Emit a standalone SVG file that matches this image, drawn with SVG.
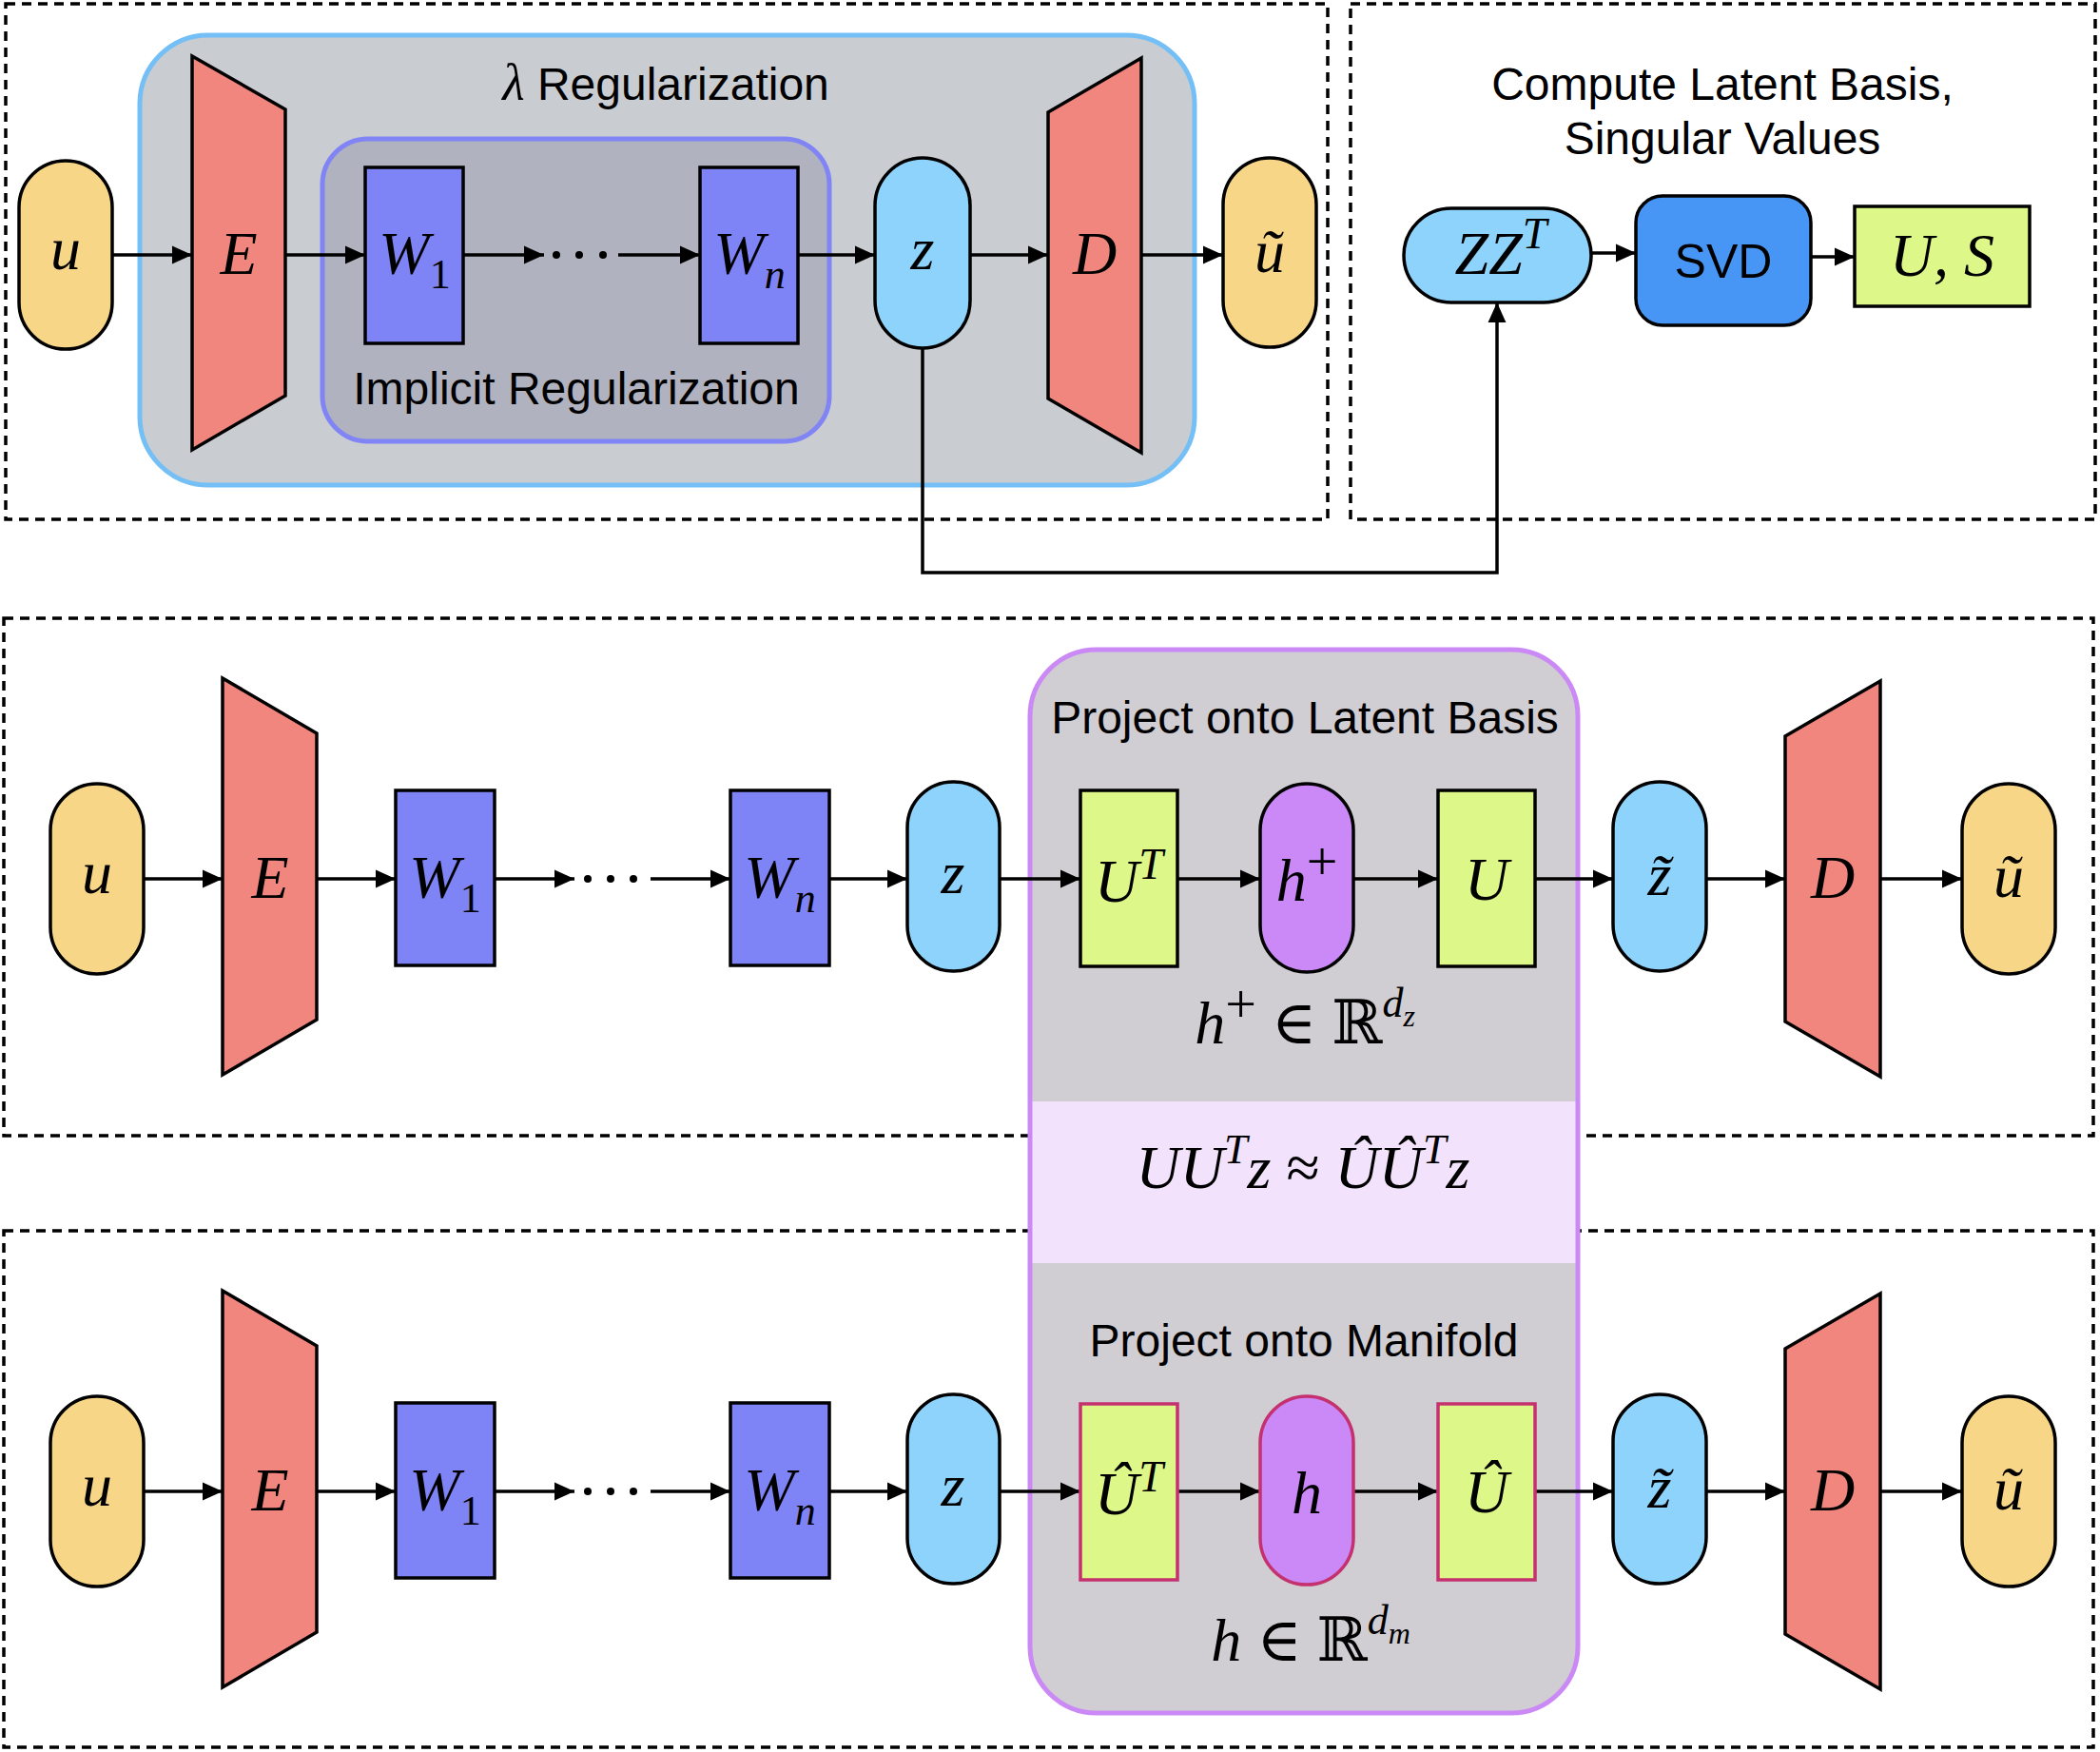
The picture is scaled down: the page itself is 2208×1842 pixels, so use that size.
<svg xmlns="http://www.w3.org/2000/svg" width="2208" height="1842" viewBox="0 0 2208 1842">
<defs>
<style>
.panel{fill:none;stroke:#000;stroke-width:3.5;stroke-dasharray:10 7}
.nd{stroke:#000;stroke-width:3.5}
.cr{stroke:#C4316E;stroke-width:3.5}
.yel{fill:#F8D688}
.sal{fill:#F0867E}
.wb{fill:#7E83F6}
.zb{fill:#8DD3FB}
.lime{fill:#DDF889}
.hp{fill:#CB88F7}
.svd{fill:#4796F6}
.conn{fill:none;stroke:#000;stroke-width:3.5;marker-end:url(#ah)}
.m{font-family:"Liberation Serif","DejaVu Serif",serif;font-style:italic;font-size:64px;text-anchor:middle;fill:#000}
.up{font-style:normal}
.plus{font-style:normal;font-size:58px}
.s{font-family:"Liberation Sans",Arial,sans-serif;font-size:48px;text-anchor:middle;fill:#000}
</style>
<marker id="ah" viewBox="0 0 20 20" refX="20" refY="10" markerWidth="21" markerHeight="21" markerUnits="userSpaceOnUse" orient="auto">
<path d="M0,1 L20,10 L0,19 z" fill="#000"/>
</marker>
<clipPath id="pc"><rect x="1083" y="683" width="576" height="1118" rx="70"/></clipPath>
</defs>
<rect width="2208" height="1842" fill="#fff"/>

<g id="panels">
<rect class="panel" x="6" y="4" width="1390" height="542"/>
<rect class="panel" x="1420" y="4" width="783" height="542"/>
<rect class="panel" x="4" y="650" width="2197" height="544"/>
<rect class="panel" x="4" y="1294" width="2197" height="543"/>
</g>

<g id="containers">
<g id="lambda-reg">
<rect x="147" y="37" width="1109" height="473" rx="72" fill="#C9CDD1" stroke="#74BFF6" stroke-width="5"/>
<text class="s" x="700" y="105"><tspan style="font-family:'Liberation Serif','DejaVu Serif',serif;font-style:italic;font-size:54px">λ</tspan> Regularization</text>
</g>
<g id="implicit-reg">
<rect x="339" y="146" width="533" height="318" rx="48" fill="#B0B2BF" stroke="#8084F5" stroke-width="5"/>
<text class="s" x="606" y="425">Implicit Regularization</text>
</g>
<g id="projection-box">
<g clip-path="url(#pc)">
<rect x="1083" y="683" width="576" height="1118" fill="#D0CED3"/>
<rect x="1083" y="1158" width="576" height="170" fill="#F2E2FC"/>
</g>
<rect x="1083" y="683" width="576" height="1118" rx="70" fill="none" stroke="#CB89F5" stroke-width="5"/>
<text class="s" x="1372" y="771">Project onto Latent Basis</text>
<text class="m" x="1372" y="1097">h<tspan class="plus" dy="-22">+</tspan><tspan class="up" dy="22"> ∈ ℝ</tspan><tspan font-size="44" dy="-28">d</tspan><tspan font-size="32" dy="10">z</tspan></text>
<text class="m" x="1370" y="1249">UU<tspan font-size="44" dy="-26">T</tspan><tspan dy="26">z </tspan><tspan class="up">≈</tspan> ÛÛ<tspan font-size="44" dy="-26">T</tspan><tspan dy="26">z</tspan></text>
<text class="s" x="1371" y="1426">Project onto Manifold</text>
<text class="m" x="1378" y="1746">h<tspan class="up"> ∈ ℝ</tspan><tspan font-size="44" dy="-28">d</tspan><tspan font-size="32" dy="10">m</tspan></text>
</g>
</g>

<g id="connectors">
<path class="conn" d="M118,268 H202"/>
<path class="conn" d="M300,268 H384"/>
<path class="conn" d="M487,268 H572"/>
<path class="conn" d="M650,268 H736"/>
<path class="conn" d="M839,268 H920"/>
<path class="conn" d="M1020,268 H1102"/>
<path class="conn" d="M1200,268 H1286"/>
<path class="conn" d="M970,366 V602 H1574 V318"/>
<path class="conn" d="M1673,266 H1720"/>
<path class="conn" d="M1904,270 H1950"/>
<path class="conn" d="M151,924 H234"/>
<path class="conn" d="M333,924 H416"/>
<path class="conn" d="M520,924 H604"/>
<path class="conn" d="M684,924 H768"/>
<path class="conn" d="M872,924 H954"/>
<path class="conn" d="M1051,924 H1136"/>
<path class="conn" d="M1238,924 H1325"/>
<path class="conn" d="M1423,924 H1512"/>
<path class="conn" d="M1614,924 H1696"/>
<path class="conn" d="M1794,924 H1877"/>
<path class="conn" d="M1977,924 H2063"/>
<path class="conn" d="M151,1568 H234"/>
<path class="conn" d="M333,1568 H416"/>
<path class="conn" d="M520,1568 H604"/>
<path class="conn" d="M684,1568 H768"/>
<path class="conn" d="M872,1568 H954"/>
<path class="conn" d="M1051,1568 H1136"/>
<path class="conn" d="M1238,1568 H1325"/>
<path class="conn" d="M1423,1568 H1512"/>
<path class="conn" d="M1614,1568 H1696"/>
<path class="conn" d="M1794,1568 H1877"/>
<path class="conn" d="M1977,1568 H2063"/>
<g fill="#000">
<circle cx="585" cy="268" r="4"/><circle cx="609" cy="268" r="4"/><circle cx="634" cy="268" r="4"/>
<circle cx="618" cy="924" r="4"/><circle cx="642" cy="924" r="4"/><circle cx="666" cy="924" r="4"/>
<circle cx="618" cy="1568" r="4"/><circle cx="642" cy="1568" r="4"/><circle cx="666" cy="1568" r="4"/>
</g>
</g>

<g id="t-u"><rect class="nd yel" x="20" y="169" width="98" height="198" rx="49"/><text class="m" x="69" y="283">u</text></g>
<g id="t-E"><polygon class="nd sal" points="202,59 300,115 300,416 202,473"/><text class="m" x="251" y="288">E</text></g>
<g id="t-W1"><rect class="nd wb" x="384" y="176" width="103" height="185"/><text class="m" x="436" y="288">W<tspan class="up" font-size="44" dy="15">1</tspan></text></g>
<g id="t-Wn"><rect class="nd wb" x="736" y="176" width="103" height="185"/><text class="m" x="788" y="288">W<tspan font-size="44" dy="15">n</tspan></text></g>
<g id="t-z"><rect class="nd zb" x="920" y="166" width="100" height="200" rx="50"/><text class="m" x="970" y="283">z</text></g>
<g id="t-D"><polygon class="nd sal" points="1102,118 1200,61 1200,476 1102,419"/><text class="m" x="1151" y="288">D</text></g>
<g id="t-ut"><rect class="nd yel" x="1286" y="166" width="98" height="199" rx="49"/><text class="m" x="1335" y="286">ũ</text></g>

<g id="svd-title"><text class="s" x="1811" y="105">Compute Latent Basis,</text><text class="s" x="1811" y="162">Singular Values</text></g>
<g id="n-ZZT"><rect class="nd zb" x="1476" y="219" width="197" height="99" rx="50"/><text class="m" x="1578" y="288">ZZ<tspan font-size="46" dy="-27">T</tspan></text></g>
<g id="n-SVD"><rect class="nd svd" x="1720" y="206" width="184" height="136" rx="28"/><text class="s" x="1812" y="292" style="font-size:50px">SVD</text></g>
<g id="n-US"><rect class="nd lime" x="1950" y="217" width="184" height="105"/><text class="m" x="2042" y="290">U, S</text></g>

<g id="m-u"><rect class="nd yel" x="53" y="824" width="98" height="200" rx="49"/><text class="m" x="102" y="939">u</text></g>
<g id="m-E"><polygon class="nd sal" points="234,713 333,771 333,1072 234,1130"/><text class="m" x="284" y="944">E</text></g>
<g id="m-W1"><rect class="nd wb" x="416" y="831" width="104" height="184"/><text class="m" x="468" y="944">W<tspan class="up" font-size="44" dy="15">1</tspan></text></g>
<g id="m-Wn"><rect class="nd wb" x="768" y="831" width="104" height="184"/><text class="m" x="820" y="944">W<tspan font-size="44" dy="15">n</tspan></text></g>
<g id="m-z"><rect class="nd zb" x="954" y="822" width="97" height="199" rx="48"/><text class="m" x="1002" y="939">z</text></g>
<g id="m-UT"><rect class="nd lime" x="1136" y="831" width="102" height="185"/><text class="m" x="1187" y="948">U<tspan font-size="46" dy="-24">T</tspan></text></g>
<g id="m-hp"><rect class="nd hp" x="1325" y="824" width="98" height="198" rx="49"/><text class="m" x="1374" y="947">h<tspan class="plus" dy="-22">+</tspan></text></g>
<g id="m-U"><rect class="nd lime" x="1512" y="831" width="102" height="185"/><text class="m" x="1563" y="946">U</text></g>
<g id="m-zt"><rect class="nd zb" x="1696" y="822" width="98" height="199" rx="49"/><text class="m" x="1745" y="941">z̃</text></g>
<g id="m-D"><polygon class="nd sal" points="1877,774 1977,716 1977,1132 1877,1074"/><text class="m" x="1927" y="944">D</text></g>
<g id="m-ut"><rect class="nd yel" x="2063" y="824" width="98" height="200" rx="49"/><text class="m" x="2112" y="943">ũ</text></g>

<g id="b-u"><rect class="nd yel" x="53" y="1468" width="98" height="200" rx="49"/><text class="m" x="102" y="1583">u</text></g>
<g id="b-E"><polygon class="nd sal" points="234,1357 333,1415 333,1716 234,1774"/><text class="m" x="284" y="1588">E</text></g>
<g id="b-W1"><rect class="nd wb" x="416" y="1475" width="104" height="184"/><text class="m" x="468" y="1588">W<tspan class="up" font-size="44" dy="15">1</tspan></text></g>
<g id="b-Wn"><rect class="nd wb" x="768" y="1475" width="104" height="184"/><text class="m" x="820" y="1588">W<tspan font-size="44" dy="15">n</tspan></text></g>
<g id="b-z"><rect class="nd zb" x="954" y="1466" width="97" height="199" rx="48"/><text class="m" x="1002" y="1583">z</text></g>
<g id="b-UhT"><rect class="cr lime" x="1136" y="1476" width="102" height="185"/><text class="m" x="1187" y="1592">Û<tspan font-size="46" dy="-24">T</tspan></text></g>
<g id="b-h"><rect class="cr hp" x="1325" y="1468" width="98" height="198" rx="49"/><text class="m" x="1374" y="1591">h</text></g>
<g id="b-Uh"><rect class="cr lime" x="1512" y="1476" width="102" height="185"/><text class="m" x="1563" y="1590">Û</text></g>
<g id="b-zt"><rect class="nd zb" x="1696" y="1466" width="98" height="199" rx="49"/><text class="m" x="1745" y="1585">z̃</text></g>
<g id="b-D"><polygon class="nd sal" points="1877,1418 1977,1360 1977,1776 1877,1718"/><text class="m" x="1927" y="1588">D</text></g>
<g id="b-ut"><rect class="nd yel" x="2063" y="1468" width="98" height="200" rx="49"/><text class="m" x="2112" y="1587">ũ</text></g>
</svg>
